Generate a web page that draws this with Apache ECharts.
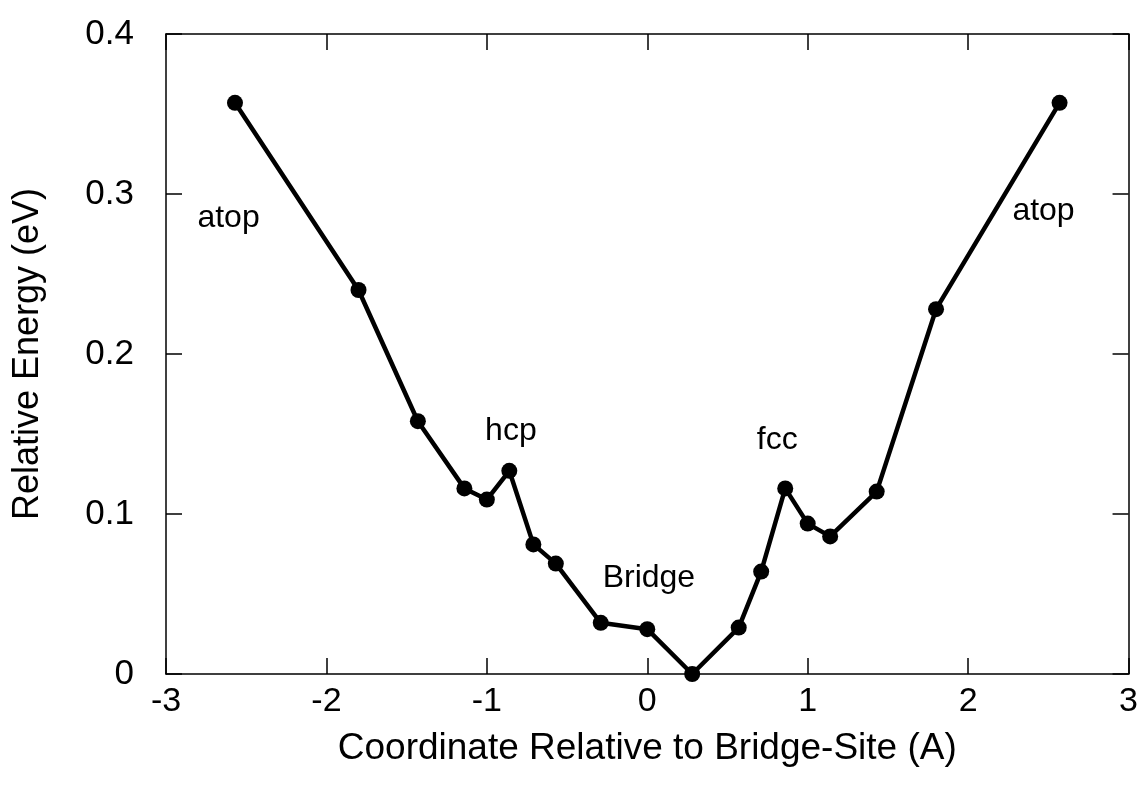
<!DOCTYPE html>
<html><head><meta charset="utf-8">
<script src="https://cdn.jsdelivr.net/npm/echarts@6/dist/echarts.min.js"></script>
<style>html,body{margin:0;padding:0;background:#fff}#c{width:1141px;height:800px}</style>
</head><body><div id="c"></div>
<script>
const xValues = [-2.57, -1.8, -1.43, -1.14, -1.0, -0.86, -0.71, -0.57, -0.29, 0, 0.28, 0.57, 0.71, 0.86, 1.0, 1.14, 1.43, 1.8, 2.57];
const energies = [0.357, 0.240, 0.158, 0.116, 0.109, 0.127, 0.081, 0.069, 0.032, 0.028, 0.0, 0.029, 0.064, 0.116, 0.094, 0.086, 0.114, 0.228, 0.357];
const labelTexts = ['atop', 'atop', 'hcp', 'Bridge', 'fcc'];
const labelX = [-2.61, 2.47, -0.85, 0.01, 0.81];
const labelY = [0.285, 0.289, 0.152, 0.06, 0.146];
const xTicks = [-3, -2, -1, 0, 1, 2, 3];
const yTicks = [0, 0.1, 0.2, 0.3, 0.4];

const FONT = 'Liberation Sans, Arial, Helvetica, sans-serif';
const chart = echarts.init(document.getElementById('c'));
const axisLine = {show: true, onZero: false, lineStyle: {color: '#000', width: 1.5}};
const tick = {show: true, inside: true, length: 16, lineStyle: {color: '#000', width: 1.5}};
chart.setOption({
  animation: false,
  backgroundColor: '#fff',
  grid: {left: 166, right: 10, top: 34, bottom: 126},
  xAxis: [{
    type: 'value', min: -3, max: 3, interval: 1, position: 'bottom',
    axisLine: axisLine, axisTick: tick, splitLine: {show: false},
    axisLabel: {color: '#000', fontSize: 34, fontFamily: FONT, margin: 11, showMaxLabel: true},
    name: 'Coordinate Relative to Bridge-Site (A)', nameLocation: 'middle', nameGap: 56,
    nameTextStyle: {color: '#000', fontSize: 37, fontFamily: FONT, verticalAlign: 'top'}
  }, {
    type: 'value', min: -3, max: 3, interval: 1, position: 'top',
    axisLine: axisLine, axisTick: tick, axisLabel: {show: false}, splitLine: {show: false}
  }],
  yAxis: [{
    type: 'value', min: 0, max: 0.4, interval: 0.1, position: 'left',
    axisLine: axisLine, axisTick: tick, splitLine: {show: false},
    axisLabel: {color: '#000', fontSize: 35, fontFamily: FONT, margin: 32,
      formatter: v => (v === 0 ? '0' : v.toFixed(1))},
    name: 'Relative Energy (eV)', nameLocation: 'middle', nameGap: 120, nameRotate: 90,
    nameTextStyle: {color: '#000', fontSize: 36, fontFamily: FONT}
  }, {
    type: 'value', min: 0, max: 0.4, interval: 0.1, position: 'right',
    axisLine: axisLine, axisTick: tick, axisLabel: {show: false}, splitLine: {show: false}
  }],
  series: [{
    type: 'line',
    data: xValues.map((x, i) => [x, energies[i]]),
    symbol: 'circle', symbolSize: 16,
    lineStyle: {color: '#000', width: 4.5},
    itemStyle: {color: '#000'},
    clip: false, z: 3
  }, {
    type: 'scatter',
    data: labelX.map((x, i) => [x, labelY[i], labelTexts[i]]),
    symbolSize: 0,
    itemStyle: {opacity: 1, color: '#000'},
    label: {show: true, position: 'inside', formatter: p => p.data[2],
      color: '#000', opacity: 1, fontSize: 32, fontFamily: FONT},
    z: 4
  }]
});
</script></body></html>
